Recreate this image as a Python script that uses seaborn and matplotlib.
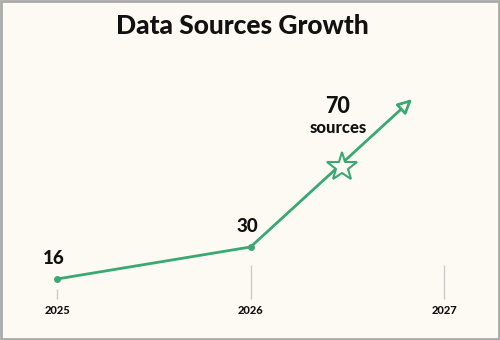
import numpy as np
import pandas as pd
import seaborn as sns
import matplotlib.pyplot as plt

# data
years = [2025, 2026]
sources = [16, 30]
proj_years = [2026, 2026.47, 2026.835]   # 2026 -> star -> arrow tip
proj_sources = [30, 65, 94.7]
tick_years = [2025, 2026, 2027]
tick_labels = ['2025', '2026', '2027']
label_text = ['16', '30']
target_label = '70'
target_unit = 'sources'

green = '#3aa872'
bg = '#fcfaf3'
ink = '#111111'

sns.set_theme(style='white')
plt.rcParams['font.family'] = ['Lato', 'DejaVu Sans']

fig = plt.figure(figsize=(5, 3.4), dpi=100, facecolor=bg)
ax = fig.add_axes([0, 0, 1, 1])
ax.set_facecolor(bg)
ax.set_xlim(2024.705, 2027.289)
ax.set_ylim(-10.7, 138.05)
ax.axis('off')

df = pd.DataFrame({'year': years, 'sources': sources})
sns.lineplot(data=df, x='year', y='sources', color=green, lw=2, marker='o',
             markersize=5, markeredgewidth=0, ax=ax, zorder=3)

# projection arrow
ax.annotate('', xy=(proj_years[2], proj_sources[2]), xytext=(proj_years[0], proj_sources[0]),
            arrowprops=dict(arrowstyle='-|>,head_length=0.7,head_width=0.35', color=green,
                            lw=2, fc=bg, shrinkA=0, shrinkB=0), zorder=3)
ax.plot(proj_years[1], proj_sources[1], marker='*', markersize=22, mfc=bg, mec=green,
        mew=1.5, zorder=4)

# value labels
for x, y, t in zip(years, sources, label_text):
    ax.text(x - 0.015, y + 9, t, ha='center', va='center', fontsize=13.5,
            fontweight=900, color=ink)
ax.text(2026.452, 91.5, target_label, ha='center', va='center', fontsize=15.5,
        fontweight=900, color=ink)
ax.text(2026.452, 82, target_unit, ha='center', va='center', fontsize=12,
        fontweight=900, color=ink)

# year ticks and labels
tick_tops = [11.6, 22.1, 22.1]
for x, top, t in zip(tick_years, tick_tops, tick_labels):
    ax.vlines(x, 7.25, top, color='#cccccc', lw=1)
    ax.text(x, 2.0, t, ha='center', va='center', fontsize=8,
            fontweight=900, color=ink)

fig.text(0.484, 0.925, 'Data Sources Growth', ha='center', va='center',
         fontsize=19, fontweight=900, color=ink)

# frame
fig.patches.append(plt.Rectangle((0.002, 0.003), 0.996, 0.994, transform=fig.transFigure,
                                 fill=False, ec='#aaaaaa', lw=2))

fig.savefig('out.png', dpi=100, facecolor=bg)
